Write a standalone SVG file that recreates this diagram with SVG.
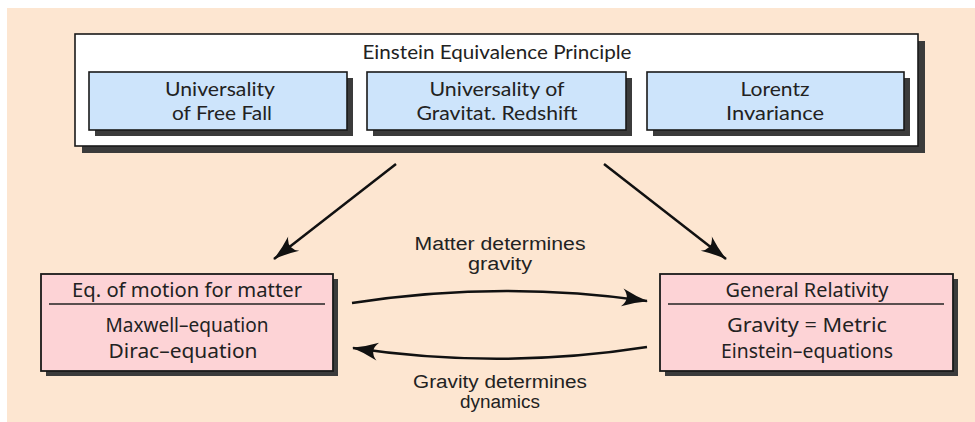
<svg xmlns="http://www.w3.org/2000/svg" width="975" height="422" viewBox="0 0 975 422">
<defs>
<style>
.shadow{fill:#3b3b3b}
.outer{fill:#ffffff;stroke:#1a1a1a;stroke-width:1.6}
.blue{fill:#cde4fb;stroke:#1a1a1a;stroke-width:1.6}
.pink{fill:#fdd3d6;stroke:#1a1a1a;stroke-width:1.8}
.tt{font-family:"Lato","Open Sans",sans-serif;font-size:19.5px;fill:#222;text-anchor:middle}
.ct{font-family:"Noto Sans","Open Sans",sans-serif;font-size:20px;fill:#222;text-anchor:middle}
.lb{font-family:"Liberation Sans","Noto Sans",sans-serif;font-size:18px;fill:#222;text-anchor:middle}
.conn{fill:none;stroke:#111;stroke-width:2.5}
</style>
<marker id="ah" viewBox="-27 -10 29 20" refX="0" refY="0" markerWidth="29" markerHeight="20" markerUnits="userSpaceOnUse" orient="auto">
<path d="M1,0 Q-12,-3 -25,-9 Q-16,0 -25,9 Q-12,3 1,0 Z" fill="#111"/>
</marker>
</defs>
<rect x="0" y="0" width="975" height="422" fill="#ffffff"/>
<rect x="7" y="8" width="968" height="414" fill="#fde6d1"/>

<g id="eep">
<rect class="shadow" x="82" y="41" width="843" height="112"/>
<rect class="outer" x="75" y="34" width="843" height="112"/>
<text class="tt" x="497" y="59" textLength="269" lengthAdjust="spacingAndGlyphs">Einstein Equivalence Principle</text>
</g>

<g id="free-fall">
<rect class="shadow" x="95" y="78" width="258" height="58"/>
<rect class="blue" x="89" y="72" width="258" height="58"/>
<text class="tt" x="220" y="96" textLength="110" lengthAdjust="spacingAndGlyphs">Universality</text>
<text class="tt" x="222" y="120" textLength="100" lengthAdjust="spacingAndGlyphs">of Free Fall</text>
</g>

<g id="redshift">
<rect class="shadow" x="373" y="78" width="259" height="58"/>
<rect class="blue" x="367" y="72" width="259" height="58"/>
<text class="tt" x="497" y="96" textLength="135" lengthAdjust="spacingAndGlyphs">Universality of</text>
<text class="tt" x="497" y="120" textLength="161" lengthAdjust="spacingAndGlyphs">Gravitat. Redshift</text>
</g>

<g id="lorentz">
<rect class="shadow" x="653" y="78" width="257" height="58"/>
<rect class="blue" x="647" y="72" width="257" height="58"/>
<text class="tt" x="775" y="96" textLength="69" lengthAdjust="spacingAndGlyphs">Lorentz</text>
<text class="tt" x="775" y="120" textLength="98" lengthAdjust="spacingAndGlyphs">Invariance</text>
</g>

<g id="matter">
<rect class="shadow" x="46" y="279" width="292" height="97"/>
<rect class="pink" x="41" y="274" width="292" height="97"/>
<text class="ct" x="187" y="297" textLength="230" lengthAdjust="spacingAndGlyphs">Eq. of motion for matter</text>
<line x1="49" y1="304" x2="325" y2="304" stroke="#222" stroke-width="1.3"/>
<text class="ct" x="187" y="332" textLength="163" lengthAdjust="spacingAndGlyphs">Maxwell–equation</text>
<text class="ct" x="183" y="358" textLength="149" lengthAdjust="spacingAndGlyphs">Dirac–equation</text>
</g>

<g id="gr">
<rect class="shadow" x="665" y="279" width="293" height="97"/>
<rect class="pink" x="660" y="274" width="293" height="97"/>
<text class="ct" x="807" y="297" textLength="163" lengthAdjust="spacingAndGlyphs">General Relativity</text>
<line x1="668" y1="304" x2="944" y2="304" stroke="#222" stroke-width="1.3"/>
<text class="ct" x="807" y="332" textLength="160" lengthAdjust="spacingAndGlyphs">Gravity = Metric</text>
<text class="ct" x="807" y="358" textLength="172" lengthAdjust="spacingAndGlyphs">Einstein–equations</text>
</g>

<g id="connectors">
<line class="conn" x1="396" y1="164" x2="274" y2="259" marker-end="url(#ah)"/>
<line class="conn" x1="604" y1="164" x2="726" y2="259" marker-end="url(#ah)"/>
<path class="conn" d="M352,303 Q500,280 647,301" marker-end="url(#ah)"/>
<path class="conn" d="M647,347 Q500,370 353,348" marker-end="url(#ah)"/>
<text class="lb" x="500" y="250" textLength="171" lengthAdjust="spacingAndGlyphs">Matter determines</text>
<text class="lb" x="500" y="270" textLength="64" lengthAdjust="spacingAndGlyphs">gravity</text>
<text class="lb" x="500" y="388" textLength="174" lengthAdjust="spacingAndGlyphs">Gravity determines</text>
<text class="lb" x="500" y="408" textLength="80" lengthAdjust="spacingAndGlyphs">dynamics</text>
</g>
</svg>
